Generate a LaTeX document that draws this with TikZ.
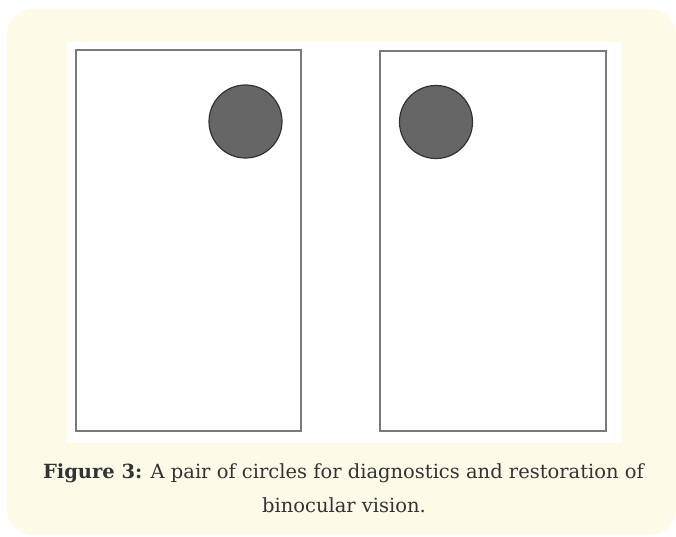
\documentclass[tikz,border=0pt]{standalone}
\usepackage{fontspec}
\setmainfont{DejaVu Serif}
\definecolor{cream}{HTML}{FEFAE8}
\definecolor{rectgray}{HTML}{7A7A7A}
\definecolor{discfill}{HTML}{666666}
\definecolor{discedge}{HTML}{333333}
\definecolor{captext}{HTML}{333333}
\tikzset{
  panel/.style={draw=rectgray, line width=1.6pt, fill=white},
  disc/.style={circle, draw=discedge, line width=1.2pt, fill=discfill, minimum size=73pt, inner sep=0pt},
  captionline/.style={text=captext, font=\fontsize{19.5}{23}\selectfont, inner sep=0pt, anchor=base}
}
\begin{document}
\begin{tikzpicture}[x=1pt,y=-1pt]
\useasboundingbox (0,0) rectangle (676,537);
\fill[white] (0,0) rectangle (676,537);
\fill[cream, rounded corners=26pt] (7,9) rectangle (676,535);
\fill[white] (67,42) rectangle (621,443);
\draw[panel] (76,50) rectangle (301,431);
\draw[panel] (380,51) rectangle (606,431);
\node[disc] (dl) at (245.5,121.5) {};
\node[disc] (dr) at (436,122) {};
\node[captionline] (c1) at (343.5,478) {\textbf{Figure 3:} A pair of circles for diagnostics and restoration of};
\node[captionline] (c2) at (344,512) {binocular vision.};
\end{tikzpicture}
\end{document}
